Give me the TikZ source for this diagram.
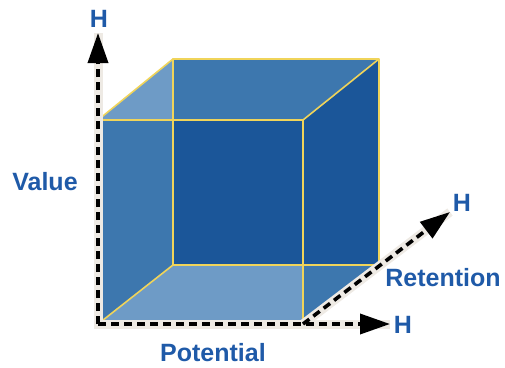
\documentclass[tikz,border=0pt]{standalone}
\usepackage{fontspec}
\setmainfont{Liberation Sans}
\usetikzlibrary{arrows.meta}
\definecolor{lightb}{HTML}{6E9BC6}
\definecolor{medb}{HTML}{3D77AE}
\definecolor{darkb}{HTML}{1B5699}
\definecolor{edgey}{HTML}{F0D45A}
\definecolor{labb}{HTML}{1F5AA8}
\definecolor{halo}{HTML}{EEEAE4}
\tikzset{
  edge/.style={draw=edgey, line width=1.6pt, line join=round},
  axishalo/.style={draw=halo, line width=9pt},
  axisline/.style={draw=black, line width=3.6pt, dash pattern=on 8pt off 5pt,
    -{Triangle[length=30pt,width=20pt]}},
  lab/.style={font=\fontsize{25}{30}\selectfont\bfseries, text=labb, inner sep=0pt}
}
\begin{document}
\begin{tikzpicture}[x=1pt,y=-1pt]
\useasboundingbox (0,0) rectangle (505,367);
% cube corners
\coordinate (F1) at (98,120);
\coordinate (F2) at (303,120);
\coordinate (F3) at (303,324);
\coordinate (F4) at (98,324);
\coordinate (B1) at (173,59);
\coordinate (B2) at (379,59);
\coordinate (B3) at (379,265);
\coordinate (B4) at (173,265);
\coordinate (P1) at (173,120);
\coordinate (P2) at (303,265);
% faces
\fill[lightb] (F1) -- (B1) -- (P1) -- cycle;
\fill[lightb] (B4) -- (P2) -- (F3) -- (F4) -- cycle;
\fill[medb] (B1) -- (B2) -- (F2) -- (P1) -- cycle;
\fill[medb] (F1) -- (P1) -- (B4) -- (F4) -- cycle;
\fill[medb] (P2) -- (B3) -- (F3) -- cycle;
\fill[darkb] (P1) -- (F2) -- (P2) -- (B4) -- cycle;
\fill[darkb] (F2) -- (B2) -- (B3) -- (P2) -- cycle;
% edges
\draw[edge] (F1) -- (F2) -- (F3) -- (F4) -- cycle;
\draw[edge] (B1) -- (B2) -- (B3) -- (B4) -- cycle;
\draw[edge] (F1) -- (B1);
\draw[edge] (F2) -- (B2);
\draw[edge] (F3) -- (B3);
\draw[edge] (F4) -- (B4);
% axes
\coordinate (O) at (98,324);
\coordinate (Vt) at (98,33);
\coordinate (Pt) at (390,324);
\coordinate (Rt) at (450,212);
\draw[axishalo] (Vt) -- (O) -- (Pt);
\draw[axishalo] (F3) -- (Rt);
\draw[axisline] (O) -- (Vt);
\draw[axisline] (O) -- (Pt);
\draw[axisline] (F3) -- (Rt);
% labels
\node[lab] (hv) at (99,19) {H};
\node[lab] (hp) at (403,325) {H};
\node[lab] (hr) at (462,203) {H};
\node[lab] (value) at (45,182) {Value};
\node[lab] (potential) at (213,353) {Potential};
\node[lab] (retention) at (443,278) {Retention};
\end{tikzpicture}
\end{document}
